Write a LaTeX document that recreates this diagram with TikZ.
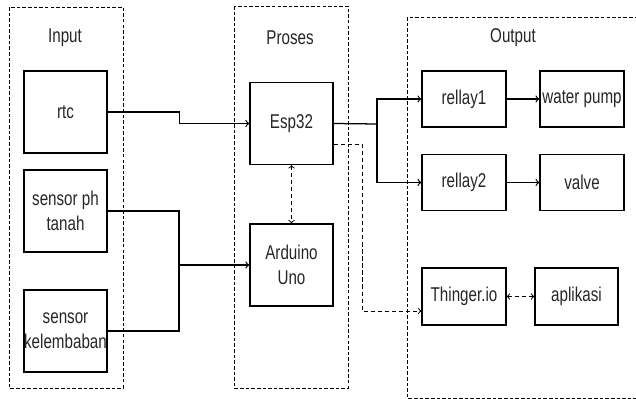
\documentclass[tikz,border=0pt]{standalone}
\usepackage{fontspec}
\setmainfont{Liberation Sans}[FakeStretch=0.76]
\usepackage{tikz}

\begin{document}
\begin{tikzpicture}[x=0.025cm,y=-0.025cm,
   every node/.style={font=\fontsize{14.2}{17.5}\selectfont,align=center,text=black!85},
   box/.style={draw,line width=0.9pt,minimum width=2.08cm,minimum height=2.05cm,inner sep=0pt},
   sbox/.style={draw,line width=0.9pt,minimum width=2.1cm,minimum height=1.4cm,inner sep=0pt},
   group/.style={draw,line width=0.6pt,dash pattern=on 2.5pt off 1.5pt},
   link/.style={line width=0.9pt,-to},
   dlink/.style={line width=0.7pt,dash pattern=on 3pt off 2pt}]
  \clip (0,0) rectangle (636,399);
  % kelompok
  \draw[group] (9,7) rectangle (123,388);
  \draw[group] (234,6) rectangle (348,388);
  \draw[group] (407,17) rectangle (645,398);
  \node (lin) at (65,38) {Input};
  \node (lpr) at (290,38) {Proses};
  \node (lout) at (513,38) {Output};
  % input
  \node[box] (rtc) at (65.5,112) {rtc};
  \node[box] (ph) at (65.5,211) {sensor ph\\tanah};
  \node[box] (kel) at (65.5,331) {sensor\\kelembaban};
  % proses
  \node[box] (esp) at (291.5,123.5) {Esp32};
  \node[box] (ard) at (291.5,265) {Arduino\\Uno};
  % output
  \node[sbox] (r1) at (464,99) {rellay1};
  \node[sbox] (pump) at (582,99) {water pump};
  \node[sbox] (r2) at (464,182.5) {rellay2};
  \node[sbox] (valve) at (582,182.5) {valve};
  \node[sbox,minimum height=1.43cm] (thg) at (464,296.5) {Thinger.io};
  \node[sbox,minimum height=1.43cm,minimum width=2.08cm] (app) at (576.5,296.5) {aplikasi};
  \coordinate (j1) at (179,265);
  \coordinate (j2) at (377,124);
  \coordinate (j3) at (362,311);
  \draw[link] (rtc.east) -- ++(72,0) |- (esp.west);
  \draw[line width=0.9pt] (ph.east) -| (j1) |- (kel.east);
  \draw[link] (j1) -- (ard.west);
  \draw[line width=0.9pt] (esp.east) -- (j2);
  \draw[link] (j2) |- (r1.west); \draw[link] (j2) |- (r2.west);
  \draw[link] (r1) -- (pump); \draw[link] (r2) -- (valve);
  \draw[dlink,to-to] (esp.south) -- (ard.north);
  \draw[dlink,-to] (esp.east |- 0,144) -| (j3) -- (j3 -| thg.west);
  \draw[dlink,to-to] (thg) -- (app);
 \end{tikzpicture}
\end{document}
